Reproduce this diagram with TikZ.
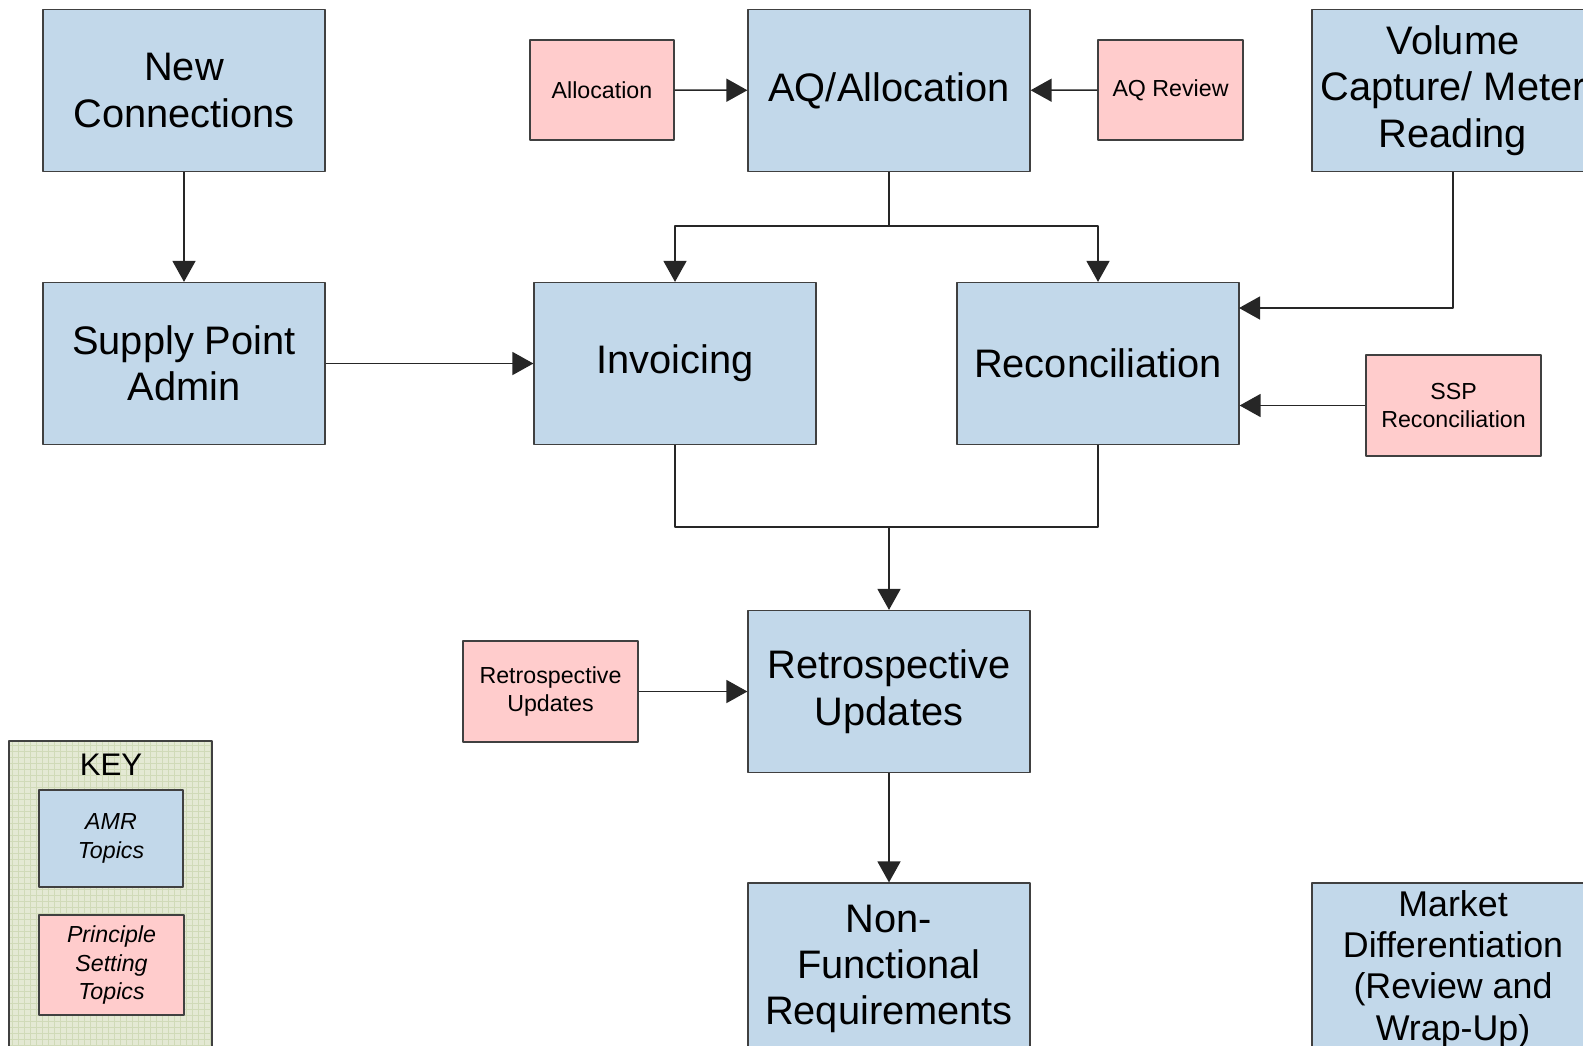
\documentclass[tikz,border=0pt]{standalone}
\usepackage{fontspec}
\setmainfont{Liberation Sans}
\usetikzlibrary{arrows.meta,patterns}
\definecolor{amrblue}{HTML}{C2D8EA}
\definecolor{psrose}{HTML}{FFCCCC}
\definecolor{keybg}{HTML}{E4E9D4}
\definecolor{keygrid}{HTML}{D0DAB8}
\definecolor{edge}{HTML}{404040}
\tikzset{
  topic/.style={draw=edge,fill=amrblue,line width=0.6pt,inner sep=0pt,align=center,
    minimum width=141pt,minimum height=81pt,font=\fontsize{19.9}{23.2}\selectfont},
  principle/.style={draw=edge,fill=psrose,line width=0.6pt,inner sep=0pt,align=center,
    font=\fontsize{11.6}{14.1}\selectfont},
  flow/.style={draw=black!85,line width=0.75pt,-{Triangle[length=10.5pt,width=11.5pt]}},
  link/.style={draw=black!85,line width=0.75pt}
}
\begin{document}
\begin{tikzpicture}[x=0.5pt,y=-0.5pt,line join=round]
\useasboundingbox (0,0) rectangle (1583,1045);
\clip (0,0) rectangle (1583,1045);
% AMR topics
\node[topic] (newconn) at (184,90.5) {New\\Connections};
\node[topic] (spadmin) at (184,363.5) {Supply Point\\Admin};
\node[topic] (aq) at (889,90.5) {AQ/Allocation};
\node[topic] (inv) at (675,363.5) {Invoicing};
\node[topic] (rec) at (1098,363.5) {Reconciliation};
\node[topic] (vol) at (1453,90.5) {Volume\\Capture/ Meter\\Reading};
\node[topic] (retro) at (889,691.5) {Retrospective\\Updates};
\node[topic,minimum height=86pt] (nfr) at (889,969) {Non-\\Functional\\Requirements};
\node[topic,minimum height=86pt,font=\fontsize{17.9}{20.7}\selectfont] (market) at (1453,969) {Market\\Differentiation\\(Review and\\Wrap-Up)};
% principle setting topics
\node[principle,minimum width=72pt,minimum height=50pt] (alloc) at (602,90) {Allocation};
\node[principle,minimum width=72.5pt,minimum height=50pt] (aqrev) at (1170.5,90) {AQ Review};
\node[principle,minimum width=87.5pt,minimum height=50.5pt] (ssp) at (1453.5,405.5) {SSP\\Reconciliation};
\node[principle,minimum width=87.5pt,minimum height=50.5pt] (retrops) at (550.5,691.5) {Retrospective\\Updates};
% connectors
\coordinate (split) at (889,226);
\coordinate (merge) at (889,527);
\coordinate (volin) at (1239,308);
\draw[flow] (newconn) -- (spadmin);
\draw[flow] (spadmin) -- (inv);
\draw[flow] (alloc) -- (aq);
\draw[flow] (aqrev) -- (aq);
\draw[flow] (aq.south) -- (split) -| (inv.north);
\draw[flow] (split) -| (rec.north);
\draw[flow] (vol.south) |- (volin);
\draw[flow] (ssp.west) -- (ssp.west -| rec.east);
\draw[link] (inv.south) |- (merge) -| (rec.south);
\draw[flow] (merge) -- (retro.north);
\draw[flow] (retrops) -- (retro);
\draw[flow] (retro) -- (nfr);
% key
\fill[keybg] (9,741) rectangle (212,1060);
\fill[pattern=grid,pattern color=keygrid] (9,741) rectangle (212,1060);
\draw[edge,line width=0.6pt] (9,1060) -- (9,741) -- (212,741) -- (212,1060);
\node[font=\fontsize{15.6}{18}\selectfont] (keytitle) at (111,765) {KEY};
\node[topic,minimum width=72pt,minimum height=48.5pt,font=\fontsize{11.6}{14.1}\selectfont\itshape] (keyamr) at (111,838.5) {AMR\\Topics};
\node[principle,minimum width=72.5pt,minimum height=50pt,font=\fontsize{11.6}{14.1}\selectfont\itshape] (keyps) at (111.5,965) {Principle\\Setting\\Topics};
\end{tikzpicture}
\end{document}
